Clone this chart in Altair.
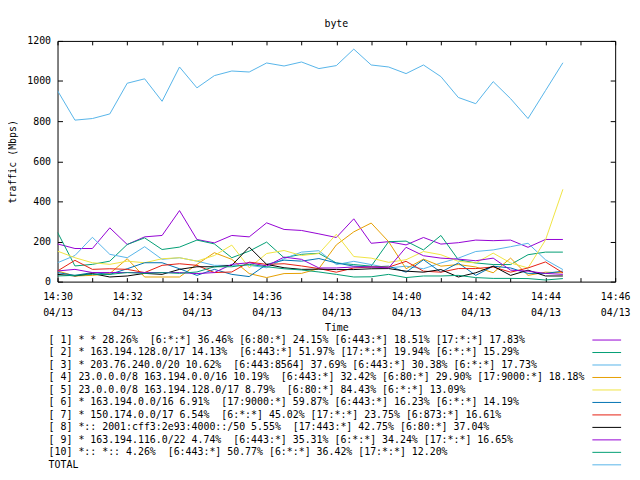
import altair as alt
import pandas as pd

FONT = "DejaVu Sans Mono"

times = ["14:30:00", "14:30:30", "14:31:00", "14:31:30", "14:32:00", "14:32:30",
         "14:33:00", "14:33:30", "14:34:00", "14:34:30", "14:35:00", "14:35:30",
         "14:36:00", "14:36:30", "14:37:00", "14:37:30", "14:38:00", "14:38:30",
         "14:39:00", "14:39:30", "14:40:00", "14:40:30", "14:41:00", "14:41:30",
         "14:42:00", "14:42:30", "14:43:00", "14:43:30", "14:44:00", "14:44:30"]
date_label = "04/13"

s1 = [188, 165, 165, 268, 185, 223, 230, 354, 210, 193, 230, 223, 293, 260, 255, 238,
      220, 313, 191, 199, 183, 220, 187, 194, 207, 204, 207, 171, 210, 210]
s2 = [246, 78, 86, 102, 185, 218, 160, 172, 207, 188, 119, 152, 197, 119, 136, 141,
      93, 85, 77, 199, 202, 158, 230, 109, 93, 85, 85, 134, 147, 147]
s3 = [94, 130, 221, 136, 119, 174, 111, 119, 102, 81, 81, 81, 69, 114, 147, 154,
      85, 101, 85, 68, 77, 64, 93, 117, 150, 158, 174, 191, 109, 60]
s4 = [53, 28, 31, 40, 114, 23, 23, 23, 86, 144, 111, 40, 20, 40, 41, 65,
      183, 248, 292, 199, 64, 112, 77, 85, 73, 44, 117, 31, 47, 44]
s5 = [152, 119, 94, 86, 102, 94, 114, 119, 102, 130, 182, 69, 140, 155, 130, 140,
      236, 125, 117, 96, 109, 150, 134, 101, 93, 142, 93, 68, 207, 460]
s6 = [45, 31, 45, 36, 64, 94, 94, 64, 31, 61, 36, 25, 86, 107, 102, 115,
      93, 77, 73, 77, 47, 109, 47, 93, 31, 77, 68, 41, 41, 52]
s7 = [53, 106, 61, 64, 61, 45, 81, 89, 81, 45, 48, 97, 86, 89, 78, 65,
      47, 68, 73, 72, 101, 52, 47, 65, 65, 73, 47, 68, 98, 44]
s8 = [36, 28, 40, 23, 28, 41, 36, 61, 74, 74, 81, 172, 86, 69, 61, 62,
      60, 60, 64, 65, 52, 47, 60, 23, 44, 77, 31, 57, 28, 28]
s9 = [53, 61, 45, 45, 45, 45, 45, 45, 40, 45, 86, 94, 78, 122, 111, 68,
      68, 73, 73, 68, 171, 129, 117, 112, 104, 117, 57, 52, 41, 36]
s10 = [28, 31, 36, 36, 45, 41, 45, 41, 48, 74, 74, 86, 74, 64, 58, 48,
       36, 23, 24, 36, 20, 28, 28, 31, 20, 16, 16, 15, 8, 15]
total = [952, 805, 813, 836, 989, 1011, 899, 1070, 966, 1027, 1050, 1045, 1090, 1075, 1095, 1062,
         1077, 1159, 1080, 1070, 1037, 1080, 1022, 918, 887, 997, 912, 813, 952, 1091]

series_ids = ["1", "2", "3", "4", "5", "6", "7", "8", "9", "10", "TOTAL"]
series_values = [s1, s2, s3, s4, s5, s6, s7, s8, s9, s10, total]
series_colors = ["#9400D3", "#009E73", "#56B4E9", "#E69F00", "#F0E442", "#0072B2",
                 "#E51E10", "#000000", "#9400D3", "#009E73", "#56B4E9"]
legend_labels = [
    "[ 1] * * 28.26%  [6:*:*] 36.46% [6:80:*] 24.15% [6:443:*] 18.51% [17:*:*] 17.83%",
    "[ 2] * 163.194.128.0/17 14.13%  [6:443:*] 51.97% [17:*:*] 19.94% [6:*:*] 15.29%",
    "[ 3] * 203.76.240.0/20 10.62%  [6:443:8564] 37.69% [6:443:*] 30.38% [6:*:*] 17.73%",
    "[ 4] 23.0.0.0/8 163.194.0.0/16 10.19%  [6:443:*] 32.42% [6:80:*] 29.90% [17:9000:*] 18.18%",
    "[ 5] 23.0.0.0/8 163.194.128.0/17 8.79%  [6:80:*] 84.43% [6:*:*] 13.09%",
    "[ 6] * 163.194.0.0/16 6.91%  [17:9000:*] 59.87% [6:443:*] 16.23% [6:*:*] 14.19%",
    "[ 7] * 150.174.0.0/17 6.54%  [6:*:*] 45.02% [17:*:*] 23.75% [6:873:*] 16.61%",
    "[ 8] *:: 2001:cff3:2e93:4000::/50 5.55%  [17:443:*] 42.75% [6:80:*] 37.04%",
    "[ 9] * 163.194.116.0/22 4.74%  [6:443:*] 35.31% [6:*:*] 34.24% [17:*:*] 16.65%",
    "[10] *:: *:: 4.26%  [6:443:*] 50.77% [6:*:*] 36.42% [17:*:*] 12.20%",
    "TOTAL",
]

def to_min(s):
    h, m, sec = (int(p) for p in s.split(":"))
    return h * 60 + m + sec / 60.0

t0 = to_min(times[0])
rows = []
for order, (sid, vals) in enumerate(zip(series_ids, series_values)):
    for ts, v in zip(times, vals):
        rows.append({"t": to_min(ts) - t0, "v": v, "series": sid, "order": order})
df = pd.DataFrame(rows)

leg = pd.DataFrame({
    "row": list(range(len(series_ids))),
    "series": series_ids,
    "label": [s.replace("  ", "\u00a0 ") for s in legend_labels],
})

color = alt.Color("series:N", scale=alt.Scale(domain=series_ids, range=series_colors), legend=None)
xscale = alt.Scale(domain=[0, 16], nice=False, zero=False)
yscale = alt.Scale(domain=[0, 1200], nice=False)
x_ticks = list(range(0, 17))
y_ticks = list(range(0, 1201, 200))

h0 = int(t0 // 60)
m0 = int(t0 % 60)
label_expr = (
    f"datum.value % 2 == 0 ? ['{h0}:' + format({m0} + datum.value, '02d'), '{date_label}'] : ''"
)

common_axis = dict(domain=False, grid=False, tickColor="black", tickWidth=1,
                   labelFont=FONT, labelFontSize=10, labelColor="black",
                   titleFont=FONT, titleFontSize=10, titleFontWeight="normal", titleColor="black")

x_bottom = alt.Axis(values=x_ticks, labelExpr=label_expr, offset=-4, tickSize=4,
                    labelPadding=10, labelLineHeight=16, labelFlush=False, labelOverlap=False,
                    labelBaseline="top", title="Time", titlePadding=5, **common_axis)
y_left = alt.Axis(values=y_ticks, format="d", offset=-5, tickSize=5, labelPadding=7,
                  labelFlush=False, title="traffic (Mbps)", titlePadding=9, **common_axis)
x_top = alt.Axis(values=x_ticks, orient="top", offset=-4, tickSize=4, labels=False,
                 title=None, **common_axis)
y_right = alt.Axis(values=y_ticks, orient="right", offset=-5, tickSize=5, labels=False,
                   title=None, **common_axis)

lines = alt.Chart(df).mark_line(strokeWidth=1, clip=True).encode(
    x=alt.X("t:Q", scale=xscale, axis=x_bottom),
    y=alt.Y("v:Q", scale=yscale, axis=y_left),
    color=color,
    order=alt.Order("t:Q"),
)
mirror = alt.Chart(df).mark_point(opacity=0).encode(
    x=alt.X("t:Q", scale=xscale, axis=x_top),
    y=alt.Y("v:Q", scale=yscale, axis=y_right),
)
main = alt.layer(lines, mirror).resolve_axis(x="independent", y="independent")

rowscale = alt.Scale(domain=[0, 10], range=[302, 428])
leg_text = alt.Chart(leg).mark_text(align="left", baseline="middle", font=FONT, fontSize=10,
                                    color="black").encode(
    x=alt.value(-9),
    y=alt.Y("row:Q", scale=rowscale, axis=None),
    text="label:N",
)
leg_rule = alt.Chart(leg).mark_rule(strokeWidth=1).encode(
    x=alt.value(540),
    x2=alt.value(569),
    y=alt.Y("row:Q", scale=rowscale, axis=None),
    color=color,
)

chart = alt.layer(main, leg_text, leg_rule).resolve_scale(y="independent").properties(
    width=563,
    height=243,
    title=alt.TitleParams("byte", font=FONT, fontSize=10, fontWeight="normal",
                          anchor="middle", offset=7, color="black"),
    autosize=alt.AutoSizeParams(type="none"),
    padding={"left": 50, "top": 31, "right": 17, "bottom": 190},
    background="white",
).configure_view(stroke="black", strokeWidth=1)

chart.save("out.html", embed_options={"renderer": "svg", "actions": False})
